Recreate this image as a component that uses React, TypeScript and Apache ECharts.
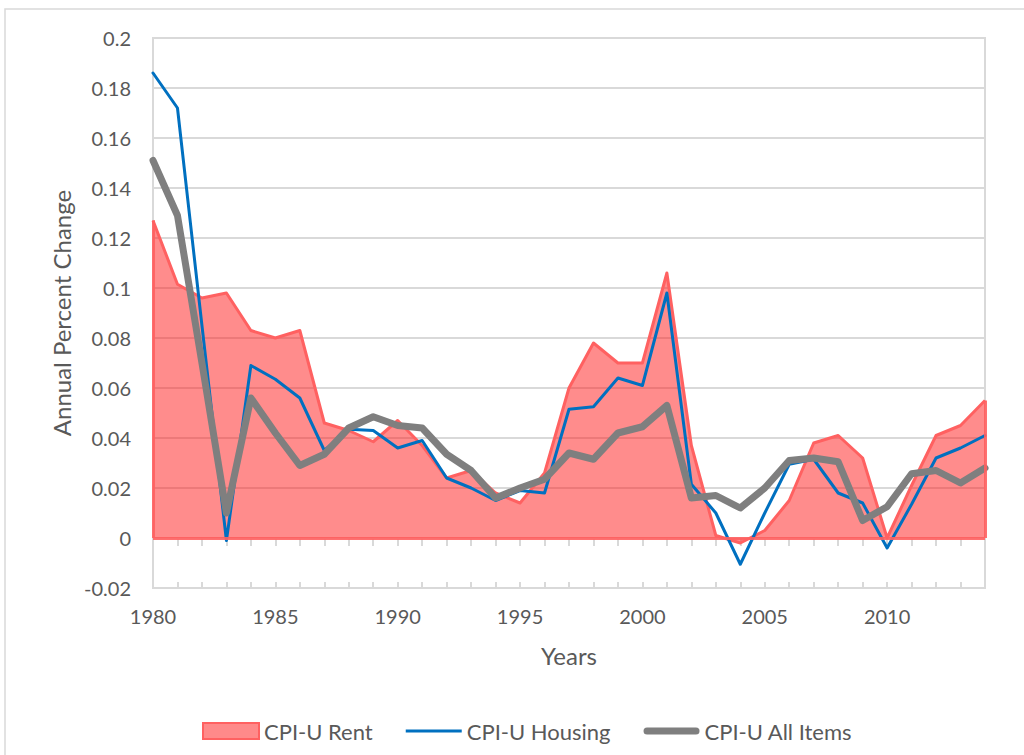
import React, { useEffect, useRef } from "react";
import * as echarts from "echarts";

const years = [
  "1980", "1981", "1982", "1983", "1984", "1985", "1986", "1987", "1988", "1989",
  "1990", "1991", "1992", "1993", "1994", "1995", "1996", "1997", "1998", "1999",
  "2000", "2001", "2002", "2003", "2004", "2005", "2006", "2007", "2008", "2009",
  "2010", "2011", "2012", "2013", "2014",
];

const rent = [
  0.127, 0.1015, 0.096, 0.098, 0.083, 0.08, 0.083, 0.046, 0.043, 0.0385,
  0.047, 0.037, 0.024, 0.027, 0.018, 0.014, 0.026, 0.06, 0.078, 0.07,
  0.07, 0.106, 0.037, 0.001, -0.002, 0.003, 0.015, 0.038, 0.041, 0.032,
  0.0, 0.021, 0.041, 0.045, 0.055,
];

const housing = [
  0.186, 0.172, 0.085, -0.001, 0.069, 0.0635, 0.056, 0.035, 0.0435, 0.043,
  0.036, 0.039, 0.024, 0.02, 0.015, 0.019, 0.018, 0.0515, 0.0525, 0.064,
  0.061, 0.098, 0.0215, 0.01, -0.0105, 0.01, 0.0295, 0.0315, 0.018, 0.014,
  -0.004, 0.0135, 0.032, 0.036, 0.041,
];

const allItems = [
  0.151, 0.129, 0.07, 0.01, 0.056, 0.042, 0.029, 0.0335, 0.044, 0.0485,
  0.045, 0.044, 0.0335, 0.027, 0.016, 0.02, 0.0235, 0.034, 0.0315, 0.042,
  0.0445, 0.053, 0.016, 0.017, 0.012, 0.02, 0.031, 0.032, 0.0305, 0.007,
  0.0125, 0.0257, 0.027, 0.022, 0.028,
];

const FONT = "Lato";
const TEXT = "#595959";
const GRID = "#D9D9D9";
const RENT_LINE = "#FF6161";
const HOUSING = "#0070C0";
const ALL = "#7F7F7F";

const thinLineIcon = "path://M0,0 L56,0 L56,3 L0,3 Z";
const thickLineIcon =
  "path://M3.5,0 L52.5,0 A3.5,3.5 0 0 1 52.5,7 L3.5,7 A3.5,3.5 0 0 1 3.5,0 Z";

export default function App() {
  const ref = useRef<HTMLDivElement>(null);

  useEffect(() => {
    if (!ref.current) return;
    const chart = echarts.init(ref.current, undefined, { renderer: "svg" });
    const first = years[0];
    const last = years[years.length - 1];
    chart.setOption({
      animation: false,
      backgroundColor: "#ffffff",
      textStyle: { fontFamily: FONT, color: TEXT },
      graphic: [
        {
          type: "rect",
          shape: { x: 5, y: 9, width: 1040, height: 770 },
          style: { fill: "none", stroke: GRID, lineWidth: 1.5 },
          silent: true,
        },
      ],
      grid: {
        left: 153,
        top: 38,
        right: 39,
        bottom: 167,
        show: true,
        borderColor: GRID,
        borderWidth: 2,
      },
      legend: {
        left: 197,
        top: 715,
        itemWidth: 56,
        itemHeight: 16,
        itemGap: 33,
        textStyle: { fontFamily: FONT, fontSize: 22, color: TEXT },
        data: [
          { name: "CPI-U Rent", icon: "rect" },
          { name: "CPI-U Housing", icon: thinLineIcon, itemStyle: { color: HOUSING, borderWidth: 0 } },
          { name: "CPI-U All Items", icon: thickLineIcon, itemStyle: { color: ALL, borderWidth: 0 } },
        ],
      },
      xAxis: [
        {
          type: "category",
          data: years,
          boundaryGap: false,
          axisLine: { show: false, onZero: false },
          axisTick: { show: false },
          axisLabel: {
            interval: 4,
            fontFamily: FONT,
            fontSize: 20,
            color: TEXT,
            margin: 18,
          },
          name: "Years",
          nameLocation: "middle",
          nameGap: 55,
          nameTextStyle: { fontFamily: FONT, fontSize: 24, color: TEXT },
          splitLine: { show: false },
        },
        {
          type: "category",
          data: years,
          boundaryGap: false,
          position: "bottom",
          axisLine: { show: true, onZero: true, lineStyle: { color: GRID, width: 2 } },
          axisTick: { show: true, interval: 0, length: 8, lineStyle: { color: GRID, width: 2 } },
          axisLabel: { show: false },
          splitLine: { show: false },
        },
        {
          type: "category",
          data: years,
          boundaryGap: false,
          position: "bottom",
          axisLine: { show: false, onZero: true },
          axisTick: { show: true, inside: true, interval: 0, length: 6, lineStyle: { color: GRID, width: 2 } },
          axisLabel: { show: false },
          splitLine: { show: false },
        },
      ],
      yAxis: {
        type: "value",
        min: -0.02,
        max: 0.2,
        interval: 0.02,
        axisLine: { show: false },
        axisTick: { show: false },
        axisLabel: {
          fontFamily: FONT,
          fontSize: 20,
          color: TEXT,
          margin: 22,
          formatter: (v: number) => String(+v.toFixed(2)),
        },
        splitLine: { lineStyle: { color: GRID, width: 2 } },
        name: "Annual Percent Change",
        nameLocation: "middle",
        nameGap: 79,
        nameTextStyle: { fontFamily: FONT, fontSize: 24, color: TEXT },
      },
      series: [
        {
          name: "CPI-U Rent",
          type: "line",
          data: rent,
          symbol: "none",
          lineStyle: { color: RENT_LINE, width: 3, join: "round" },
          itemStyle: { color: "#FF8A8A", borderColor: RENT_LINE, borderWidth: 3 },
          areaStyle: { color: "rgba(255,25,25,0.5)", opacity: 1, origin: 0 },
          z: 1,
          markLine: {
            silent: true,
            symbol: "none",
            label: { show: false },
            lineStyle: { color: RENT_LINE, width: 3, type: "solid", opacity: 0.9 },
            data: [
              [{ coord: [first, 0] }, { coord: [first, rent[0]] }],
              [{ coord: [last, 0] }, { coord: [last, rent[rent.length - 1]] }],
              [{ coord: [first, 0] }, { coord: [last, 0] }],
            ],
          },
        },
        {
          name: "CPI-U Housing",
          type: "line",
          data: housing,
          symbol: "none",
          itemStyle: { color: HOUSING },
          lineStyle: { color: HOUSING, width: 3, join: "round", cap: "round" },
          z: 2,
        },
        {
          name: "CPI-U All Items",
          type: "line",
          data: allItems,
          symbol: "none",
          itemStyle: { color: ALL },
          lineStyle: { color: ALL, width: 7, join: "round", cap: "round" },
          z: 3,
        },
      ],
    });
    return () => chart.dispose();
  }, []);

  return (
    <div
      ref={ref}
      style={{ position: "fixed", left: 0, top: 0, width: 1024, height: 755 }}
    />
  );
}
